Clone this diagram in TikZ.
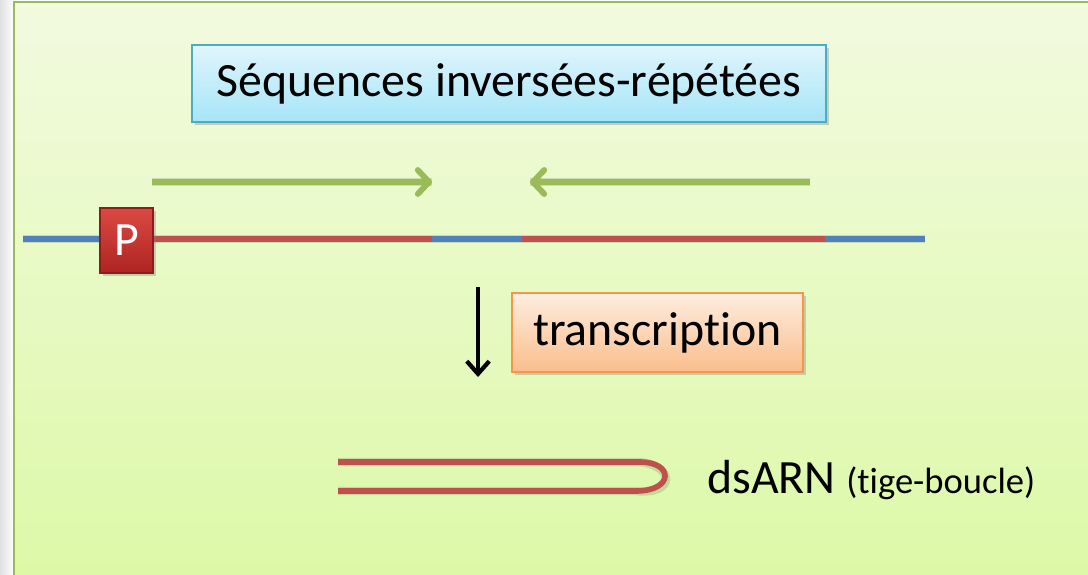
\documentclass[tikz,border=0pt]{standalone}
\usepackage{fontspec}
\setmainfont{Carlito}[Ligatures={NoCommon,NoDiscretionary}]
\usetikzlibrary{arrows.meta,shadows,positioning}
\definecolor{cadre}{HTML}{9BBB59}
\definecolor{fondhaut}{HTML}{F2FADF}
\definecolor{fondbas}{HTML}{DCF9A6}
\definecolor{adnbleu}{HTML}{4F81BD}
\definecolor{adnrouge}{HTML}{C0504D}
\definecolor{bleuhaut}{HTML}{E0F5FC}
\definecolor{bleubas}{HTML}{A6E5F8}
\definecolor{bleubord}{HTML}{4BACC6}
\definecolor{orhaut}{HTML}{FEEDE0}
\definecolor{orbas}{HTML}{FABE8C}
\definecolor{orbord}{HTML}{F79646}
\definecolor{prohaut}{HTML}{DA4A45}
\definecolor{probas}{HTML}{AE2420}
\definecolor{probord}{HTML}{8E1C1A}

\begin{document}
\begin{tikzpicture}[x=0.025cm,y=-0.025cm,
	titre/.style={draw,line width=1.3pt,drop shadow={opacity=0.35,shadow xshift=2pt,shadow yshift=-2pt},
		font=\fontsize{34}{40}\selectfont,inner sep=0pt},
	brin/.style={line width=4.8pt},
	ombre/.style={line width=6pt,black,opacity=0.12,yshift=-3pt,xshift=1pt},
	fleche/.style={line width=4.2pt,color=cadre,-{Straight Barb[length=8pt,width=17pt,line width=4.2pt,round]}}]
	% fond
	\useasboundingbox (0,0) rectangle (1088,574);
	\fill[left color=black!12,right color=white] (0,0) rectangle (14,574);
	\draw[line width=1.6pt,cadre,top color=fondhaut,bottom color=fondbas] (14,2) rectangle (1100,590);
	% titre
	\node[titre,bleubord,top color=bleuhaut,bottom color=bleubas,minimum width=15.85cm,minimum height=1.925cm]
		(seq) at (509,83.5) {\color{black}Séquences inversées-répétées};
	% fleches vertes
	\coordinate (g1) at (152,182); \coordinate (g2) at (432,182);
	\coordinate (d1) at (810,182); \coordinate (d2) at (530,182);
	\draw[ombre] (g1)--(g2); \draw[ombre] (d1)--(d2);
	\draw[fleche] (g1)--(g2);
	\draw[fleche] (d1)--(d2);
	% ADN
	\coordinate (a0) at (23,239); \coordinate (a1) at (152,239); \coordinate (a2) at (432,239);
	\coordinate (a3) at (522,239); \coordinate (a4) at (825,239); \coordinate (a5) at (925,239);
	\draw[ombre] (a0)--(a5);
	\draw[brin,adnbleu] (a0)--(a1);
	\draw[brin,adnrouge] (a1)--(a2);
	\draw[brin,adnbleu] (a2)--(a3);
	\draw[brin,adnrouge] (a3)--(a4);
	\draw[brin,adnbleu] (a4)--(a5);
	\node[draw=probord,line width=0.8pt,top color=prohaut,bottom color=probas,
		drop shadow={opacity=0.35,shadow xshift=2pt,shadow yshift=-2pt},
		minimum width=1.325cm,minimum height=1.625cm,inner sep=0pt,font=\fontsize{34}{40}\selectfont]
		(prom) at (126.5,240.5) {\color{white}P};
	% transcription
	\coordinate (t1) at (478,287); \coordinate (t2) at (478,377);
	\draw[line width=3pt,-{Straight Barb[length=9pt,width=16pt,line width=3pt]}] (t1)--(t2);
	\node[titre,orbord,top color=orhaut,bottom color=orbas,minimum width=7.275cm,minimum height=1.975cm]
		(trans) at (657.5,332.5) {\color{black}transcription};
	% tige-boucle
	\coordinate (h1) at (338,462); \coordinate (h2) at (640,462);
	\coordinate (h3) at (636,491); \coordinate (h4) at (338,491);
	\draw[ombre] (h1)--(h2) .. controls (674,462) and (674,491) .. (h3)--(h4);
	\draw[line width=4pt,adnrouge] (h1)--(h2) .. controls (674,462) and (674,491) .. (h3)--(h4);
	\node[anchor=base west,inner sep=0pt,font=\fontsize{34}{40}\selectfont] (ds) at (707,493)
		{dsARN {\fontsize{26}{30}\selectfont(tige-boucle)}};
\end{tikzpicture}
\end{document}
